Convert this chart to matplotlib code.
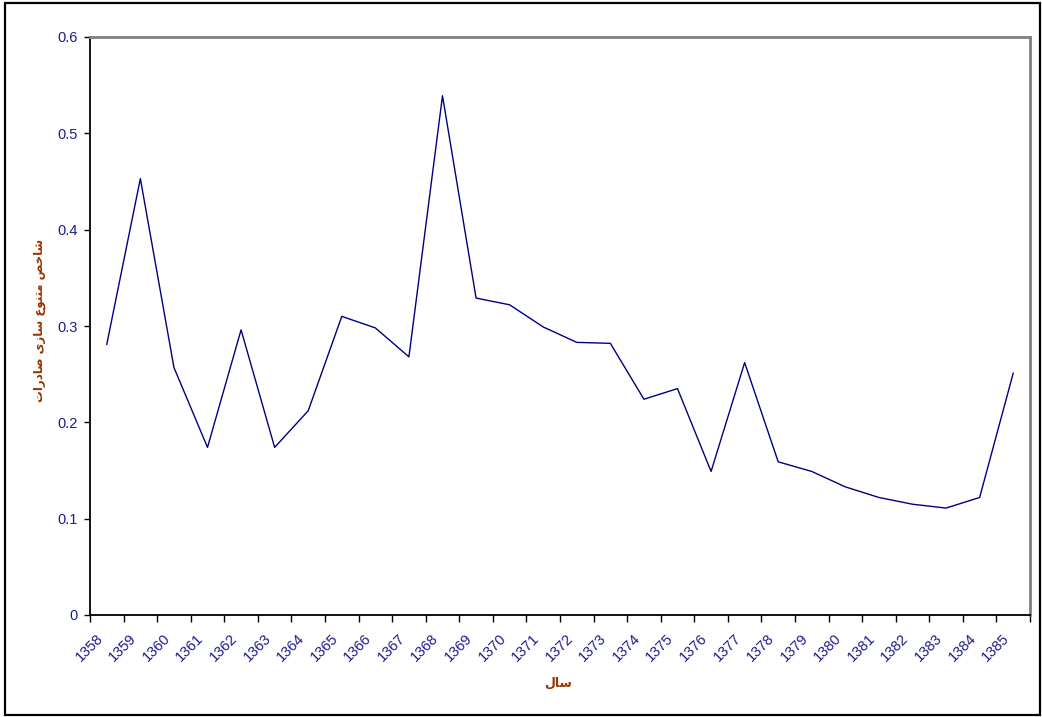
import matplotlib
matplotlib.use("Agg")
import matplotlib.pyplot as plt
import matplotlib.transforms as mtransforms
from matplotlib.patches import Rectangle

years = [str(y) for y in range(1358, 1386)]
values = [0.281, 0.453, 0.257, 0.174, 0.296, 0.174, 0.212, 0.310, 0.298, 0.268,
          0.539, 0.329, 0.322, 0.299, 0.283, 0.282, 0.224, 0.235, 0.149, 0.262,
          0.159, 0.149, 0.133, 0.122, 0.115, 0.111, 0.122, 0.251]
yticks = [0, 0.1, 0.2, 0.3, 0.4, 0.5, 0.6]
ytick_labels = ["0", "0.1", "0.2", "0.3", "0.4", "0.5", "0.6"]

# Persian labels, pre-shaped (presentation forms) in visual (left-to-right) order
# logical: "شاخص متنوع سازی صادرات"
ylabel_logical = ("\uFEB7\uFE8E\uFEA7\uFEBA" + " " +
                  "\uFEE3\uFE98\uFEE8\uFEEE\uFEC9" + " " +
                  "\uFEB3\uFE8E\uFEAF\uFEEF" + " " +
                  "\uFEBB\uFE8E\uFEA9\uFEAD\uFE8D\uFE95")
ylabel_text = ylabel_logical[::-1]
# logical: "سال"
xlabel_text = ("\uFEB3\uFE8E\uFEDD")[::-1]

navy = "#1c1c8c"
brown = "#993300"

plt.rcParams['font.family'] = ['Liberation Sans', 'DejaVu Sans']

fig = plt.figure(figsize=(10.42, 7.17), dpi=100)
W, H = 1042, 717
ax = fig.add_axes([90 / W, 1 - 615 / H, (1030 - 90) / W, (615 - 37) / H])

n = len(years)
x = [i + 0.5 for i in range(n)]
ax.plot(x, values, color="#000080", lw=1.0)

ax.set_xlim(0, n)
ax.set_ylim(0, 0.6)

ax.set_yticks(yticks)
ax.set_yticklabels(ytick_labels, color=navy, fontsize=10.5)
ax.tick_params(axis='y', direction='out', length=4, width=1, pad=5, color='black')

ax.set_xticks(x)
ax.set_xticklabels(years, color=navy, fontsize=10.5, rotation=45, ha='right',
                   va='center', rotation_mode='anchor')
ax.tick_params(axis='x', which='major', length=0, pad=15)
ax.set_xticks(range(n + 1), minor=True)
ax.tick_params(axis='x', which='minor', direction='out', length=5, width=1, color='black')
offset = mtransforms.ScaledTranslation(-6 / 100, 0, fig.dpi_scale_trans)
for lbl in ax.get_xticklabels():
    lbl.set_transform(lbl.get_transform() + offset)

for s in ['top', 'right']:
    ax.spines[s].set_color('#808080')
    ax.spines[s].set_linewidth(2.0)
for s in ['left', 'bottom']:
    ax.spines[s].set_color('black')
    ax.spines[s].set_linewidth(1.3)

fig.text(40 / W, 1 - 320 / H, ylabel_text, rotation=90, color=brown, fontsize=8.5,
         fontweight='bold', ha='center', va='center', family=['DejaVu Sans'])
fig.text(558 / W, 1 - 683 / H, xlabel_text, color=brown, fontsize=9,
         fontweight='bold', ha='center', va='center', family=['DejaVu Sans'])

fig.patches.append(Rectangle((5 / W, 1 - 715 / H), (1040 - 5) / W, (715 - 3) / H,
                             transform=fig.transFigure, fill=False,
                             edgecolor='black', lw=1.6))

fig.savefig("out.png", dpi=100)
